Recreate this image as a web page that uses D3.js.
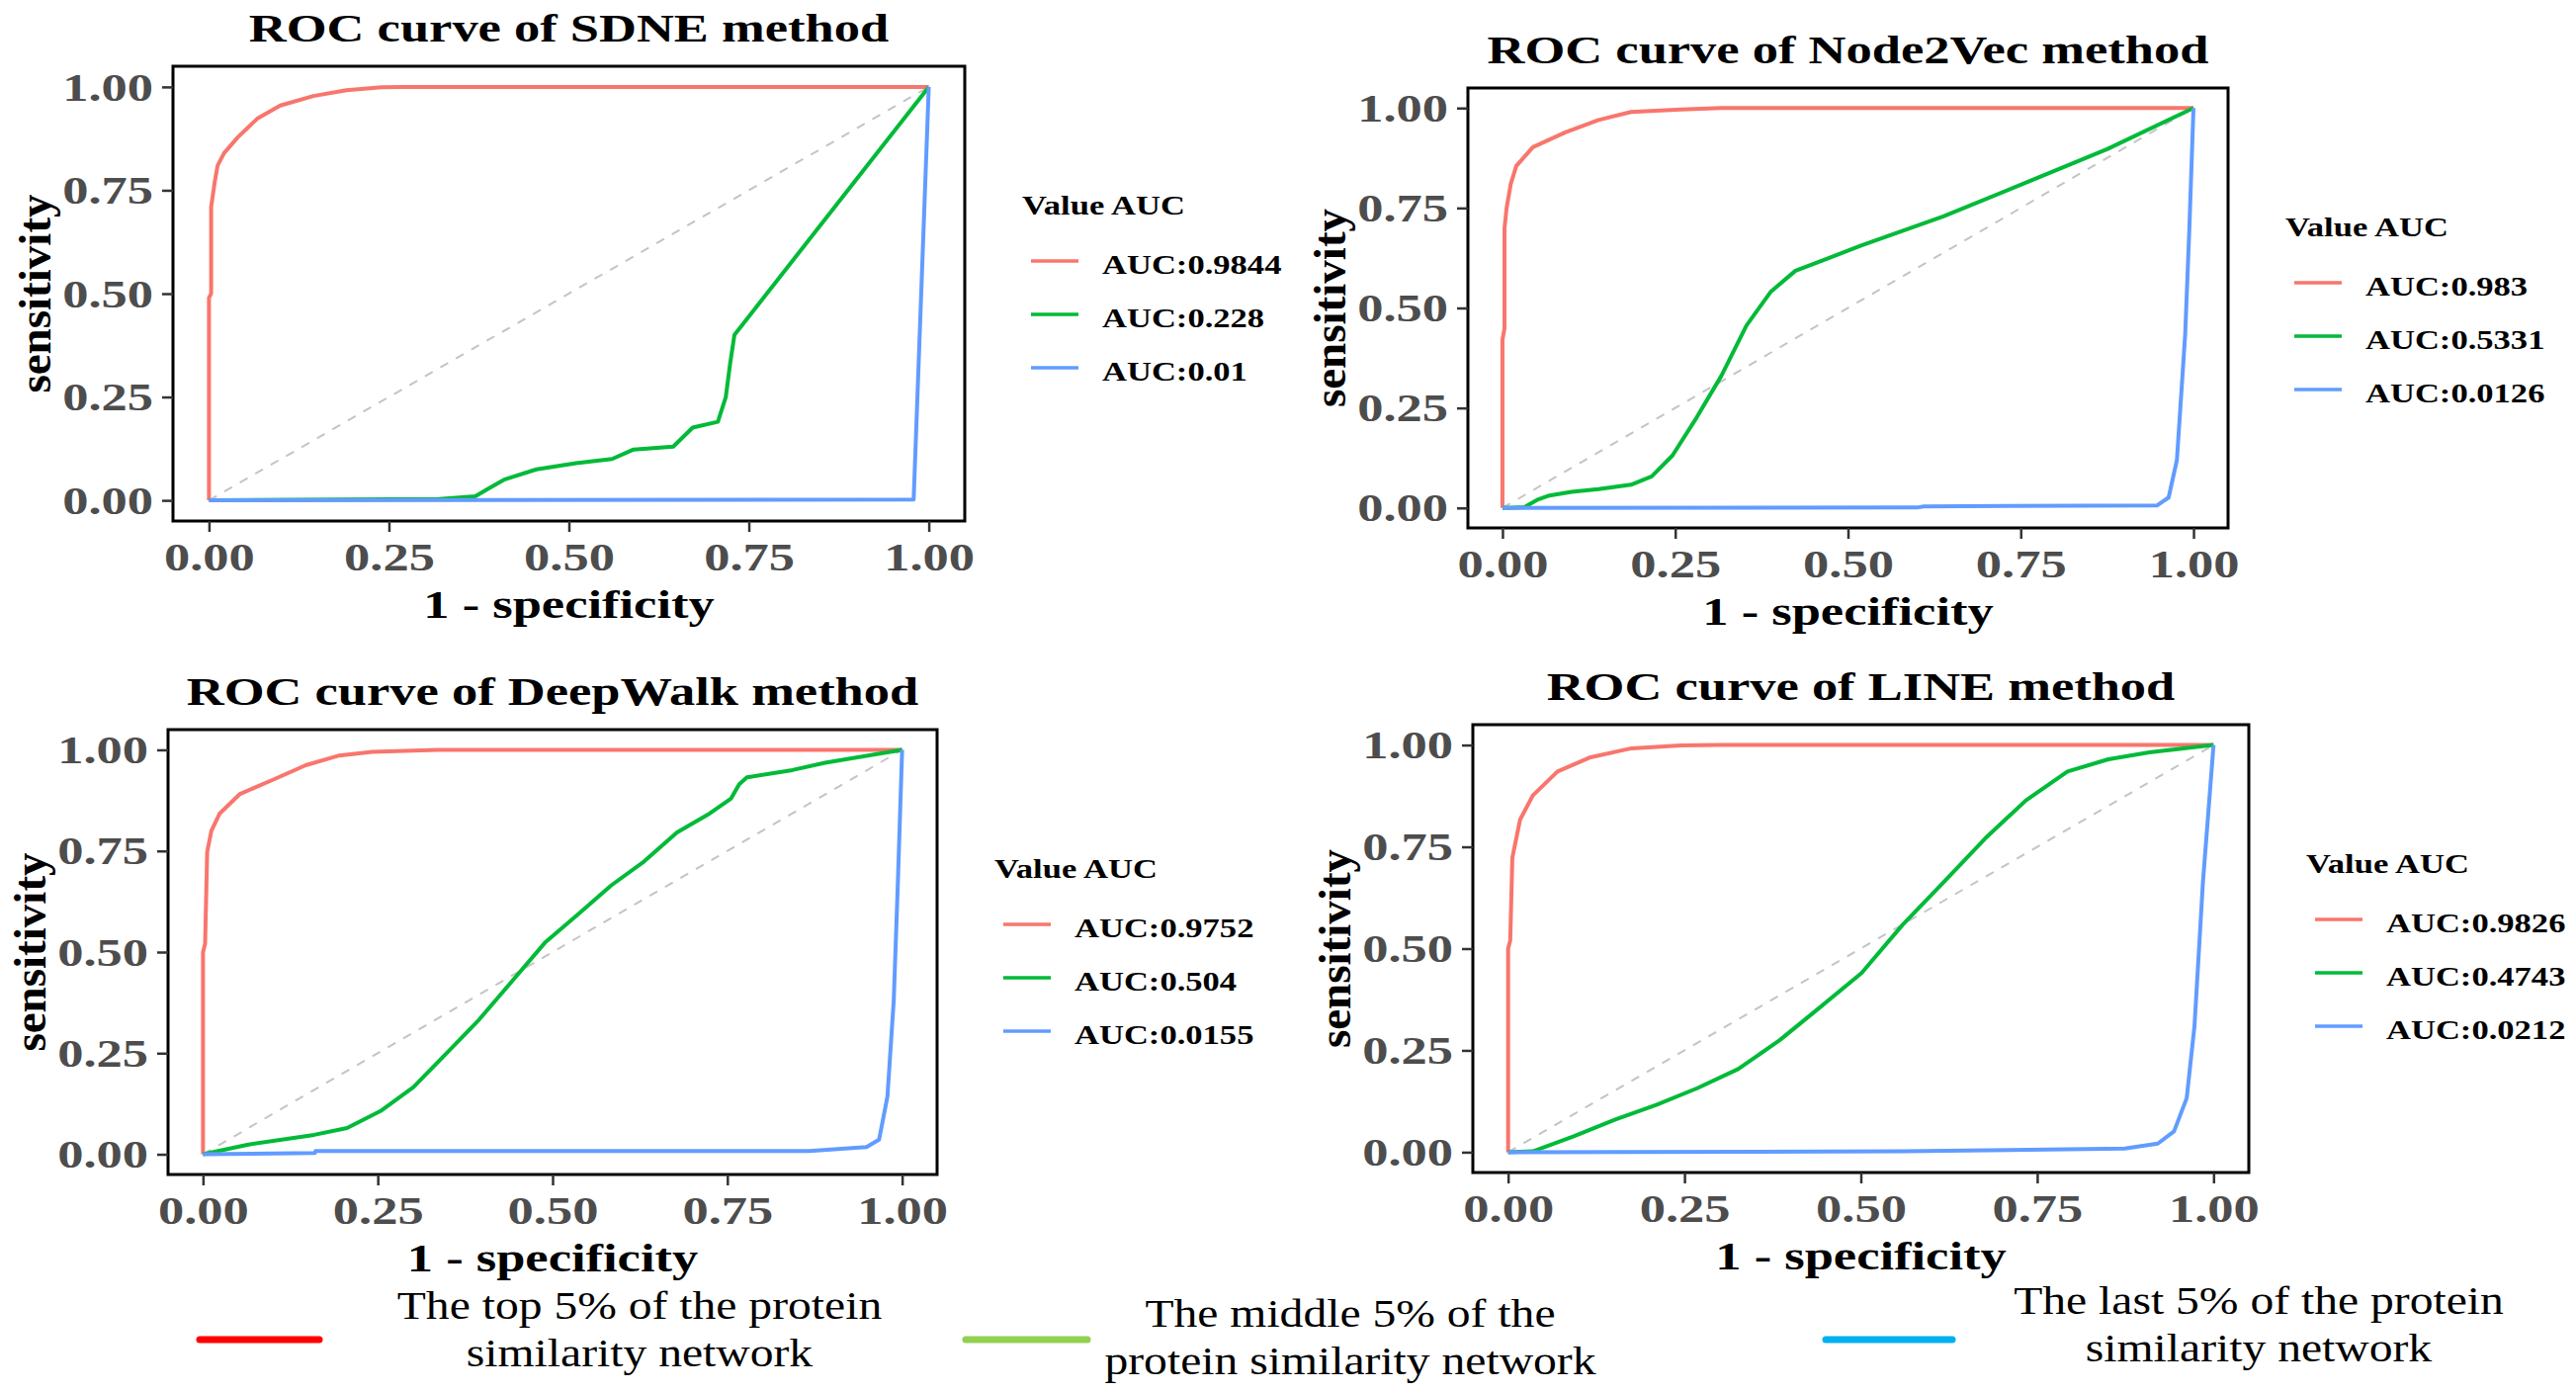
<!DOCTYPE html>
<html>
<head>
<meta charset="utf-8">
<script src="https://cdn.jsdelivr.net/npm/d3@7"></script>
<style>
  body { margin: 0; background: #fff; }
  svg { display: block; }
  text { font-family: "Liberation Serif", "Times New Roman", serif; }
</style>
</head>
<body>
<svg width="2606" height="1408"></svg>
<script>
// ROC points [1 - specificity, sensitivity]
const sdneTop = [[0,0],[0,0.49],[0.003,0.5],[0.003,0.71],[0.008,0.77],[0.012,0.81],[0.021,0.84],[0.04,0.878],[0.067,0.923],[0.099,0.955],[0.145,0.978],[0.191,0.992],[0.24,0.999],[0.27,1],[1,1]]
const sdneMid = [[0,0],[0.32,0.003],[0.37,0.01],[0.39,0.03],[0.41,0.05],[0.455,0.075],[0.51,0.09],[0.56,0.1],[0.59,0.123],[0.645,0.13],[0.672,0.176],[0.707,0.19],[0.718,0.25],[0.724,0.33],[0.73,0.4],[1,1]]
const sdneLow = [[0,0],[0.979,0.002],[1,1]]

const n2vTop = [[0,0],[0,0.42],[0.003,0.45],[0.003,0.7],[0.006,0.75],[0.012,0.81],[0.02,0.855],[0.044,0.902],[0.091,0.939],[0.139,0.97],[0.186,0.99],[0.258,0.996],[0.317,1],[1,1]]
const n2vMid = [[0,0],[0.032,0.002],[0.05,0.02],[0.068,0.031],[0.1,0.04],[0.139,0.047],[0.186,0.058],[0.216,0.079],[0.246,0.131],[0.281,0.226],[0.317,0.331],[0.353,0.456],[0.388,0.54],[0.424,0.593],[0.471,0.624],[0.519,0.656],[0.638,0.729],[0.757,0.813],[0.875,0.897],[1,1]]
const n2vLow = [[0,0],[0.6,0.001],[0.61,0.004],[0.947,0.006],[0.964,0.026],[0.976,0.12],[0.988,0.435],[0.994,0.698],[1,1]]

const dwTop = [[0,0],[0,0.5],[0.003,0.52],[0.006,0.748],[0.012,0.8],[0.024,0.843],[0.053,0.891],[0.1,0.926],[0.147,0.962],[0.195,0.986],[0.242,0.995],[0.336,1],[1,1]]
const dwMid = [[0,0],[0.065,0.024],[0.159,0.048],[0.206,0.065],[0.254,0.107],[0.301,0.166],[0.348,0.249],[0.395,0.333],[0.442,0.428],[0.489,0.523],[0.537,0.594],[0.584,0.665],[0.631,0.724],[0.678,0.796],[0.725,0.843],[0.755,0.879],[0.767,0.915],[0.778,0.932],[0.843,0.95],[0.89,0.968],[1,1]]
const dwLow = [[0,0],[0.16,0.003],[0.161,0.008],[0.867,0.008],[0.949,0.018],[0.967,0.036],[0.979,0.143],[0.988,0.38],[0.994,0.677],[1,1]]

const lineTop = [[0,0],[0,0.5],[0.003,0.52],[0.006,0.723],[0.017,0.817],[0.035,0.876],[0.07,0.935],[0.117,0.97],[0.175,0.992],[0.245,0.999],[0.3,1],[1,1]]
const lineMid = [[0,0],[0.035,0.002],[0.093,0.039],[0.152,0.08],[0.21,0.116],[0.268,0.157],[0.326,0.204],[0.385,0.275],[0.443,0.357],[0.501,0.44],[0.559,0.558],[0.618,0.664],[0.676,0.77],[0.734,0.864],[0.793,0.935],[0.851,0.965],[0.909,0.982],[1,1]]
const lineLow = [[0,0],[0.56,0.002],[0.874,0.009],[0.921,0.021],[0.944,0.051],[0.962,0.133],[0.973,0.31],[0.985,0.664],[1,1]]

const methods = ['SDNE', 'Node2Vec', 'DeepWalk', 'LINE']
const sdneAuc = ['0.9844', '0.228', '0.01']
const n2vAuc = ['0.983', '0.5331', '0.0126']
const dwAuc = ['0.9752', '0.504', '0.0155']
const lineAuc = ['0.9826', '0.4743', '0.0212']
const axisTicks = [0, 0.25, 0.5, 0.75, 1]

const bottomLabels = [
  ['The top 5% of the protein', 'similarity network'],
  ['The middle 5% of the', 'protein similarity network'],
  ['The last 5% of the protein', 'similarity network'],
]

const curveColors = ['#F8766D', '#00BA38', '#619CFF']
const bottomColors = ['#ff0000', '#92d050', '#00b0f0']
const SX = 1.28 // the panels in the picture are stretched sideways
const SX_BOTTOM = 1.19

// panel boxes: left, top, right, bottom
const panels = [
  {box: [175, 67, 976, 527], curves: [sdneTop, sdneMid, sdneLow], auc: sdneAuc},
  {box: [1485, 89, 2254, 534], curves: [n2vTop, n2vMid, n2vLow], auc: n2vAuc},
  {box: [170, 738, 948, 1188], curves: [dwTop, dwMid, dwLow], auc: dwAuc},
  {box: [1490, 733, 2275, 1186], curves: [lineTop, lineMid, lineLow], auc: lineAuc},
]

const svg = d3.select('svg')
svg.append('rect').attr('width', 2606).attr('height', 1408).attr('fill', '#fff')

panels.forEach((p, k) => {
  const [l, t, r, b] = p.box
  const x = d3.scaleLinear().domain([-0.05, 1.05]).range([l, r])
  const y = d3.scaleLinear().domain([-0.05, 1.05]).range([b, t])
  const g = svg.append('g')

  // dashed reference diagonal
  g.append('line')
    .attr('x1', x(0)).attr('y1', y(0))
    .attr('x2', x(1)).attr('y2', y(1))
    .attr('stroke', '#c4c4c4')
    .attr('stroke-width', 2)
    .attr('stroke-dasharray', '9,9')

  const line = d3.line().x(d => x(d[0])).y(d => y(d[1]))
  p.curves.forEach((c, i) => {
    g.append('path')
      .attr('d', line(c))
      .attr('fill', 'none')
      .attr('stroke', curveColors[i])
      .attr('stroke-width', 4)
      .attr('stroke-linejoin', 'round')
  })

  // panel border
  g.append('rect')
    .attr('x', l).attr('y', t)
    .attr('width', r - l).attr('height', b - t)
    .attr('fill', 'none')
    .attr('stroke', '#000')
    .attr('stroke-width', 3)

  const xAxis = g.append('g')
    .attr('transform', `translate(0,${b})`)
    .call(d3.axisBottom(x).tickValues(axisTicks).tickFormat(d3.format('.2f')).tickSize(11).tickPadding(10))
  const yAxis = g.append('g')
    .attr('transform', `translate(${l},0)`)
    .call(d3.axisLeft(y).tickValues(axisTicks).tickFormat(d3.format('.2f')).tickSize(11).tickPadding(9))
  ;[xAxis, yAxis].forEach(a => {
    a.select('.domain').remove()
    a.selectAll('line').attr('stroke', '#333').attr('stroke-width', 2.5)
    a.selectAll('text')
      .attr('class', 'st')
      .attr('fill', '#4d4d4d')
      .style('font-size', '41px')
      .style('font-weight', 'bold')
  })

  // titles
  g.append('text')
    .attr('class', 'st')
    .attr('x', (l + r) / 2).attr('y', t - 25)
    .attr('text-anchor', 'middle')
    .style('font-size', '41px').style('font-weight', 'bold')
    .text(`ROC curve of ${methods[k]} method`)

  g.append('text')
    .attr('class', 'st')
    .attr('x', (l + r) / 2).attr('y', b + 98)
    .attr('text-anchor', 'middle')
    .style('font-size', '41px').style('font-weight', 'bold')
    .text('1 - specificity')

  g.append('text')
    .attr('transform', `translate(${l - 124},${(t + b) / 2}) rotate(-90)`)
    .attr('text-anchor', 'middle')
    .style('font-size', '47px').style('font-weight', 'bold')
    .text('sensitivity')

  // legend on the right
  const lg = g.append('g').attr('transform', `translate(${r + 58},${t})`)
  lg.append('text')
    .attr('class', 'st')
    .attr('x', 0).attr('y', 150)
    .style('font-size', '27px').style('font-weight', 'bold')
    .text('Value AUC')
  p.auc.forEach((a, i) => {
    const yy = 197 + i * 54
    lg.append('line')
      .attr('x1', 9).attr('x2', 57)
      .attr('y1', yy).attr('y2', yy)
      .attr('stroke', curveColors[i])
      .attr('stroke-width', 3.5)
    lg.append('text')
      .attr('class', 'st')
      .attr('x', 81).attr('y', yy + 13)
      .style('font-size', '27px').style('font-weight', 'bold')
      .text(`AUC:${a}`)
  })
})

// bottom legend
const bottomLines = [[202, 323], [977, 1100], [1847, 1975]]
const bottomTextX = [647, 1366, 2285]
const bottomTextY = [1334, 1342, 1329]
bottomLabels.forEach((lab, i) => {
  svg.append('line')
    .attr('x1', bottomLines[i][0]).attr('x2', bottomLines[i][1])
    .attr('y1', 1355).attr('y2', 1355)
    .attr('stroke', bottomColors[i])
    .attr('stroke-width', 7)
    .attr('stroke-linecap', 'round')
  lab.forEach((s, j) => {
    svg.append('text')
      .attr('class', 'sb')
      .attr('x', bottomTextX[i]).attr('y', bottomTextY[i] + j * 48)
      .attr('text-anchor', 'middle')
      .style('font-size', '40px')
      .text(s)
  })
})

// widen the text like the stretched picture
const widen = (sel, k) => sel.each(function() {
  const w = this.getComputedTextLength()
  d3.select(this).attr('textLength', w * k).attr('lengthAdjust', 'spacingAndGlyphs')
})
widen(svg.selectAll('text.st'), SX)
widen(svg.selectAll('text.sb'), SX_BOTTOM)
</script>
</body>
</html>
